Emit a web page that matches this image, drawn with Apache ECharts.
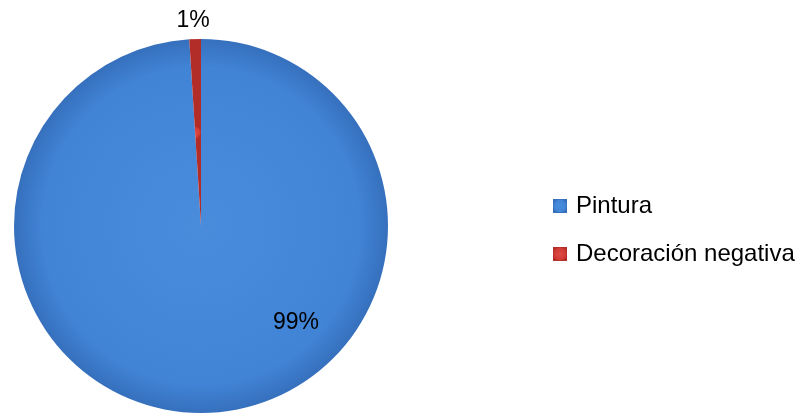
<!DOCTYPE html>
<html><head><meta charset="utf-8">
<script src="https://cdn.jsdelivr.net/npm/echarts@6/dist/echarts.min.js"></script>
<style>html,body{margin:0;padding:0;background:#fff}#c{width:799px;height:414px}</style>
</head><body><div id="c"></div>
<script>
const categories = ['Pintura', 'Decoración negativa'];
const values = [99, 1];
const colors = ['#4285d6', '#d03a35'];

const chart = echarts.init(document.getElementById('c'));
const font = '"Liberation Sans", "Open Sans", sans-serif';
chart.setOption({
  animation: false,
  legend: {
    orient: 'vertical',
    left: 548, top: 189,
    itemWidth: 14, itemHeight: 14, itemGap: 24,
    icon: 'rect',
    textStyle: { fontFamily: font, fontSize: 24, color: '#000', padding: [0,0,0,4] },
    data: categories
  },
  series: [{
    type: 'pie',
    center: [201, 226],
    radius: 187,
    startAngle: 90,
    clockwise: true,
    data: categories.map((n, i) => ({
      name: n, value: values[i],
      itemStyle: {
        color: {
          type: 'radial', x: 0.5, y: 0.5, r: 0.5,
          colorStops: i === 0
            ? [{offset: 0, color: '#4a8cdc'}, {offset: 0.85, color: '#4183d5'}, {offset: 1, color: '#3670bd'}]
            : [{offset: 0, color: '#e04a44'}, {offset: 0.85, color: '#d03a35'}, {offset: 1, color: '#b22c28'}]
        }
      },
      label: i === 0 ? { position: 'inside' } : { position: 'outside' }
    })),
    label: {
      formatter: p => Math.round(p.percent) + '%',
      fontFamily: font, fontSize: 23, color: '#000'
    },
    labelLine: { show: false, length: 4, length2: 0 },
    labelLayout: p => p.dataIndex === 0 ? { dx: 92, dy: 0 } : { align: 'center', dx: 3, dy: -14 },
    emphasis: { disabled: true }
  }]
});
</script></body></html>
